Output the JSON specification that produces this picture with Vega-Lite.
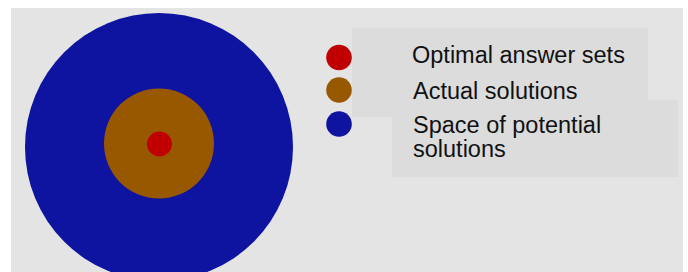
{
  "$schema": "https://vega.github.io/schema/vega-lite/v6.json",
  "width": 688,
  "height": 272,
  "autosize": {"type": "none"},
  "padding": 0,
  "background": "#ffffff",
  "config": {"view": {"stroke": null}},
  "datasets": {
    "panels": [
      {"part": "canvas", "x1": 11, "x2": 683, "y1": 8, "y2": 272},
      {"part": "legendA", "x1": 352, "x2": 648, "y1": 28, "y2": 117},
      {"part": "legendB", "x1": 392, "x2": 678, "y1": 100, "y2": 177}
    ],
    "rings": [
      {"set": "Space of potential solutions", "cx": 159, "cy": 147, "r": 134},
      {"set": "Actual solutions", "cx": 159, "cy": 143.5, "r": 55},
      {"set": "Optimal answer sets", "cx": 159.5, "cy": 144, "r": 12.5}
    ],
    "keys": [
      {"set": "Optimal answer sets", "kx": 339, "ky": 57.5, "r": 12.8, "tx": 412, "ty": 63, "label": "Optimal answer sets"},
      {"set": "Actual solutions", "kx": 339, "ky": 90, "r": 12.8, "tx": 413, "ty": 99, "label": "Actual solutions"},
      {"set": "Space of potential solutions", "kx": 339, "ky": 124, "r": 12.8, "tx": 413, "ty": 133, "label": "Space of potential\nsolutions"}
    ]
  },
  "layer": [
    {
      "data": {"name": "panels"},
      "mark": {"type": "rect"},
      "encoding": {
        "x": {"field": "x1", "type": "quantitative", "scale": {"domain": [0, 688], "nice": false, "zero": false}, "axis": null},
        "x2": {"field": "x2"},
        "y": {"field": "y1", "type": "quantitative", "scale": {"domain": [0, 272], "nice": false, "zero": false, "reverse": true}, "axis": null},
        "y2": {"field": "y2"},
        "color": {"field": "part", "type": "nominal", "legend": null, "scale": {"domain": ["canvas", "legendA", "legendB"], "range": ["#e4e4e4", "#dcdcdc", "#dcdcdc"]}}
      }
    },
    {
      "data": {"name": "rings"},
      "mark": {"type": "point", "shape": "circle", "filled": true, "opacity": 1, "clip": true},
      "encoding": {
        "x": {"field": "cx", "type": "quantitative"},
        "y": {"field": "cy", "type": "quantitative"},
        "size": {"field": "r", "type": "quantitative", "legend": null, "scale": {"type": "pow", "exponent": 2, "domain": [0, 136], "range": [0, 73984]}},
        "fill": {"field": "set", "type": "nominal", "legend": null, "scale": {"domain": ["Optimal answer sets", "Actual solutions", "Space of potential solutions"], "range": ["#c00000", "#985800", "#0e13a0"]}},
        "order": {"field": "r", "sort": "descending"}
      }
    },
    {
      "data": {"name": "keys"},
      "mark": {"type": "point", "shape": "circle", "filled": true, "opacity": 1},
      "encoding": {
        "x": {"field": "kx", "type": "quantitative"},
        "y": {"field": "ky", "type": "quantitative"},
        "size": {"field": "r", "type": "quantitative", "legend": null, "scale": {"type": "pow", "exponent": 2, "domain": [0, 136], "range": [0, 73984]}},
        "fill": {"field": "set", "type": "nominal", "legend": null}
      }
    },
    {
      "data": {"name": "keys"},
      "mark": {"type": "text", "align": "left", "baseline": "alphabetic", "font": "Liberation Sans", "fontSize": 23.5, "color": "#111111", "lineBreak": "\n", "lineHeight": 24},
      "encoding": {
        "x": {"field": "tx", "type": "quantitative"},
        "y": {"field": "ty", "type": "quantitative"},
        "text": {"field": "label", "type": "nominal"}
      }
    }
  ]
}
